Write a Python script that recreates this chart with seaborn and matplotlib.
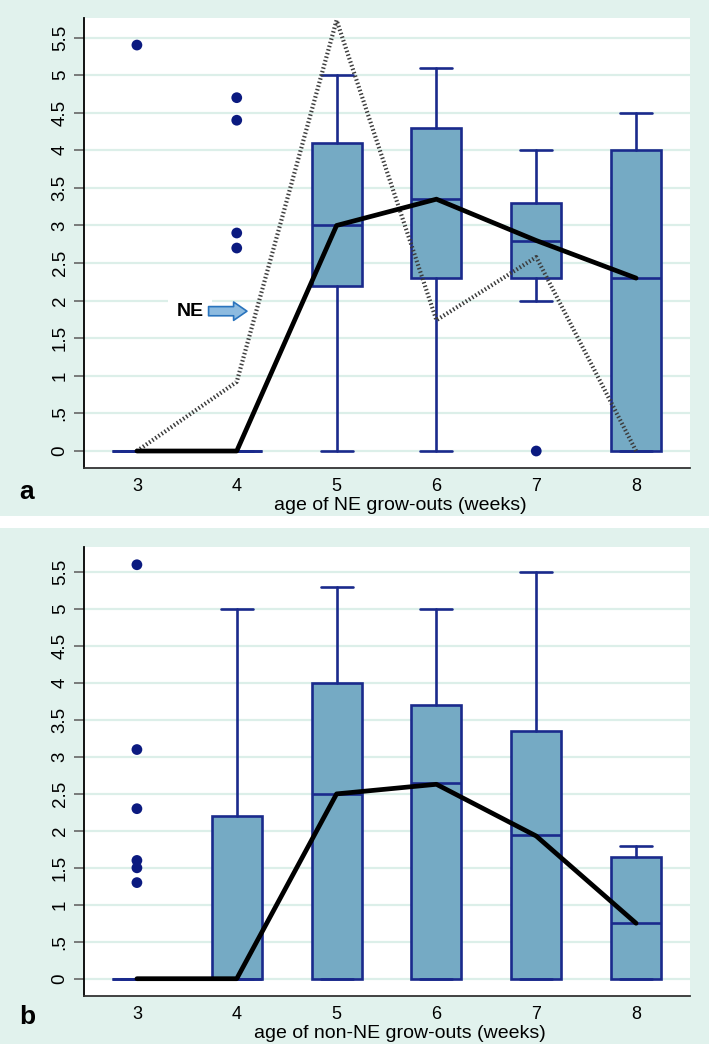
import seaborn as sns
import matplotlib.pyplot as plt
import pandas as pd
from matplotlib.patches import Rectangle

ages = [3, 4, 5, 6, 7, 8]

# panel a: NE grow-outs (box summaries)
a_wlo = [0, 0, 0, 0, 2.0, 0]
a_q1 = [0, 0, 2.2, 2.3, 2.3, 0]
a_med = [0, 0, 3.0, 3.35, 2.8, 2.3]
a_q3 = [0, 0, 4.1, 4.3, 3.3, 4.0]
a_whi = [0, 0, 5.0, 5.1, 4.0, 4.5]
a_out_x = [3, 4, 4, 4, 4, 7]
a_out_y = [5.4, 4.7, 4.4, 2.9, 2.7, 0]
a_mean = [0, 0, 3.0, 3.35, 2.8, 2.3]
a_ne = [0, 0.92, 5.73, 1.74, 2.58, 0]

# panel b: non-NE grow-outs
b_wlo = [0, 0, 0, 0, 0, 0]
b_q1 = [0, 0, 0, 0, 0, 0]
b_med = [0, 0, 2.5, 2.65, 1.95, 0.75]
b_q3 = [0, 2.2, 4.0, 3.7, 3.35, 1.65]
b_whi = [0, 5.0, 5.3, 5.0, 5.5, 1.8]
b_out_x = [3, 3, 3, 3, 3, 3]
b_out_y = [5.6, 3.1, 2.3, 1.6, 1.5, 1.3]
b_mean = [0, 0, 2.5, 2.63, 1.93, 0.75]

yticks = [0, 0.5, 1, 1.5, 2, 2.5, 3, 3.5, 4, 4.5, 5, 5.5]
ylabels = ["0", ".5", "1", "1.5", "2", "2.5", "3", "3.5", "4", "4.5", "5", "5.5"]

MINT = "#e1f2ed"
GRID = "#dcefe9"
FILL = "#75aac4"
NAVY = "#1a2a8c"

sns.set_theme(style="white")
plt.rcParams["font.family"] = ["Liberation Sans", "DejaVu Sans"]
plt.rcParams["text.color"] = "black"
plt.rcParams["xtick.labelcolor"] = "black"
plt.rcParams["ytick.labelcolor"] = "black"

W, H = 709, 1044
fig = plt.figure(figsize=(W / 100, H / 100), dpi=100)
fig.patch.set_facecolor("white")
fig.patches.append(Rectangle((0, (H - 516) / H), 1, 516 / H, transform=fig.transFigure,
                             facecolor=MINT, edgecolor="none", zorder=-10))
fig.patches.append(Rectangle((0, 0), 1, (H - 528) / H, transform=fig.transFigure,
                             facecolor=MINT, edgecolor="none", zorder=-10))


def panel(top, bottom, ylim, wlo, q1, med, q3, whi, ox, oy, mean):
    ax = fig.add_axes([84 / W, (H - bottom) / H, 606 / W, (bottom - top) / H])
    ax.set_facecolor("white")
    stats = []
    for i in range(len(ages)):
        stats.append({"whislo": wlo[i], "q1": q1[i], "med": med[i], "q3": q3[i],
                      "whishi": whi[i], "fliers": []})
    ax.bxp(stats, positions=ages, widths=0.5, capwidths=0.32, patch_artist=True,
           showfliers=False,
           boxprops=dict(facecolor=FILL, edgecolor=NAVY, linewidth=1.9),
           medianprops=dict(color=NAVY, linewidth=1.9),
           whiskerprops=dict(color=NAVY, linewidth=1.9),
           capprops=dict(color=NAVY, linewidth=1.9))
    sns.scatterplot(x=ox, y=oy, ax=ax, color="#0b1a80", s=60, edgecolor="none", zorder=4)
    sns.lineplot(x=ages, y=mean, ax=ax, color="black", linewidth=3.4, zorder=6)
    ax.set_xlim(2.47, 8.54)
    ax.set_ylim(*ylim)
    ax.set_yticks(yticks)
    ax.set_yticklabels(ylabels, rotation=90, va="center", fontsize=13.5)
    ax.set_xticks(ages)
    ax.set_xticklabels([str(a) for a in ages], fontsize=13)
    ax.yaxis.grid(True, color=GRID, linewidth=1.6)
    ax.set_axisbelow(True)
    ax.tick_params(axis="y", left=True, length=7, width=1.2, color="#666666", pad=4)
    ax.tick_params(axis="x", length=0, pad=7)
    for s in ["top", "right"]:
        ax.spines[s].set_visible(False)
    ax.spines["left"].set_color("black")
    ax.spines["left"].set_linewidth(1.3)
    ax.spines["bottom"].set_color("#333333")
    ax.spines["bottom"].set_linewidth(1.3)
    ax.set_xlabel("")
    ax.set_ylabel("")
    return ax


ax1 = panel(18, 468, (-0.226, 5.76), a_wlo, a_q1, a_med, a_q3, a_whi,
            a_out_x, a_out_y, a_mean)
sns.lineplot(x=ages, y=a_ne, ax=ax1, color="#3c3c3c", linewidth=3.0,
             linestyle=(0, (0.35, 0.55)), zorder=5)
ax1.text(3.53, 1.86, "NE", fontsize=14, fontweight="bold", ha="center", va="center",
         bbox=dict(facecolor="white", edgecolor="none", pad=6), zorder=7)
ax1.annotate("", xy=(4.13, 1.86), xytext=(3.69, 1.86),
             arrowprops=dict(arrowstyle="simple,head_length=0.8,head_width=1.1,tail_width=0.55",
                             facecolor="#8dbbe0", edgecolor="#2a74bd", linewidth=1.2),
             zorder=7)

ax2 = panel(547, 996, (-0.234, 5.84), b_wlo, b_q1, b_med, b_q3, b_whi,
            b_out_x, b_out_y, b_mean)

fig.text(400 / W, 1 - 506 / H, "age of NE grow-outs (weeks)", ha="center", va="center",
         fontsize=14)
fig.text(400 / W, 1 - 1034 / H, "age of non-NE grow-outs (weeks)", ha="center",
         va="center", fontsize=14)
fig.text(27 / W, 1 - 492 / H, "a", ha="center", va="center", fontsize=19, fontweight="bold")
fig.text(27 / W, 1 - 1017 / H, "b", ha="center", va="center", fontsize=19, fontweight="bold")

fig.savefig("out.png", dpi=100)
plt.close(fig)
